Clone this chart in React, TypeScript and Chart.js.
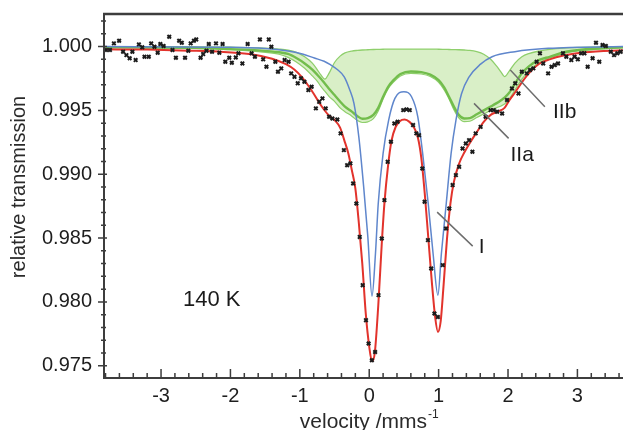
import React, { useEffect, useRef } from 'react';
import { Chart, registerables } from 'chart.js';

Chart.register(...registerables);

// ---------- axes ----------
const xRange = [-3.822, 3.657];
const yRange = [0.97404, 1.00255];
const xMajorTicks = [-3, -2, -1, 0, 1, 2, 3];
const xMinorTicks = [-3.8, -3.6, -3.4, -3.2, -2.8, -2.6, -2.4, -2.2, -1.8, -1.6, -1.4, -1.2, -0.8, -0.6, -0.4, -0.2, 0.2, 0.4, 0.6, 0.8, 1.2, 1.4, 1.6, 1.8, 2.2, 2.4, 2.6, 2.8, 3.2, 3.4, 3.6];
const yMajorTicks = [0.975, 0.98, 0.985, 0.99, 0.995, 1.0];
const yMinorTicks = [0.976, 0.977, 0.978, 0.979, 0.981, 0.982, 0.983, 0.984, 0.986, 0.987, 0.988, 0.989, 0.991, 0.992, 0.993, 0.994, 0.996, 0.997, 0.998, 0.999, 1.001, 1.002];

// ---------- measured points ----------
const dataVelocity = [
  -3.793, -3.736, -3.679, -3.604, -3.547, -3.499, -3.452, -3.413, -3.366, -3.319,
  -3.271, -3.238, -3.177, -3.142, -3.095, -3.048, -3.010, -2.963, -2.882, -2.835,
  -2.786, -2.739, -2.701, -2.654, -2.607, -2.573, -2.526, -2.493, -2.430, -2.393,
  -2.345, -2.312, -2.265, -2.208, -2.160, -2.113, -2.074, -2.017, -1.980, -1.923,
  -1.885, -1.828, -1.752, -1.695, -1.647, -1.575, -1.528, -1.481, -1.447, -1.410,
  -1.353, -1.315, -1.268, -1.219, -1.162, -1.125, -1.077, -1.030, -0.983, -0.934,
  -0.877, -0.830, -0.769, -0.721, -0.674, -0.627, -0.578, -0.531, -0.460, -0.413,
  -0.365, -0.318, -0.271, -0.232, -0.185, -0.137, -0.094, -0.047, -0.009, 0.038,
  0.085, 0.134, 0.181, 0.219, 0.266, 0.313, 0.362, 0.409, 0.490, 0.537,
  0.584, 0.632, 0.679, 0.718, 0.765, 0.798, 0.846, 0.893, 0.940, 0.989,
  1.060, 1.107, 1.154, 1.202, 1.249, 1.296, 1.345, 1.392, 1.439, 1.487,
  1.534, 1.605, 1.677, 1.748, 1.795, 1.843, 1.915, 1.986, 2.057, 2.104,
  2.151, 2.199, 2.271, 2.318, 2.365, 2.413, 2.460, 2.507, 2.578, 2.627,
  2.674, 2.721, 2.792, 2.840, 2.912, 2.959, 3.006, 3.054, 3.101, 3.148,
  3.219, 3.268, 3.315, 3.362, 3.410, 3.481, 3.528, 3.575, 3.624,
];
const dataTransmission = [
  0.99973, 0.99973, 1.00025, 1.00045, 0.99959, 0.99933, 0.99908, 0.99959, 0.99894, 1.00017,
  0.99994, 0.9992, 0.9992, 1.00025, 0.99998, 0.99951, 1.0002, 1.00004, 1.00077, 0.99973,
  0.99912, 1.00045, 1.0003, 0.99912, 0.99967, 1.00025, 1.00045, 1.00056, 0.99912, 0.99941,
  0.99967, 1.0002, 0.99959, 1.00025, 0.99951, 1.0002, 0.99881, 0.99912, 0.99873, 0.99915,
  0.99947, 0.99868, 1.0002, 0.99947, 0.9992, 1.00056, 0.999, 0.99842, 1.00056, 0.99998,
  0.99881, 0.99803, 0.99829, 0.99894, 0.99881, 0.9979, 0.99763, 0.99712, 0.99751, 0.99724,
  0.99659, 0.99685, 0.99516, 0.99567, 0.99594, 0.99516, 0.9945, 0.99437, 0.99429, 0.9932,
  0.99189, 0.99071, 0.99085, 0.98928, 0.98771, 0.98509, 0.98131, 0.97857, 0.97674, 0.97543,
  0.97608, 0.98053, 0.98497, 0.98797, 0.99097, 0.99254, 0.99398, 0.99411, 0.99502, 0.99508,
  0.99502, 0.99385, 0.9932, 0.99306, 0.99045, 0.98784, 0.98484, 0.98262, 0.97909, 0.97882,
  0.98288, 0.98575, 0.98732, 0.98915, 0.98993, 0.99058, 0.99202, 0.99241, 0.99267, 0.99176,
  0.9932, 0.99371, 0.9945, 0.99502, 0.99502, 0.99489, 0.99476, 0.99581, 0.99672, 0.99712,
  0.99633, 0.99803, 0.9979, 0.99816, 0.99829, 0.99881, 0.99947, 0.99868, 0.9979, 0.99842,
  0.99855, 0.99868, 0.99947, 0.9992, 0.99894, 0.9992, 0.999, 0.99947, 0.99947, 0.99842,
  0.99908, 1.0003, 0.99881, 1.00012, 1.00004, 0.99959, 0.99933, 0.99947, 0.99959,
];

// ---------- total fit (red) ----------
const fitVelocity = [
  -3.85, -3.2, -2.6, -2.1, -1.7, -1.4, -1.2, -1.08, -0.97, -0.88,
  -0.80, -0.72, -0.65, -0.58, -0.50, -0.42, -0.36, -0.30, -0.25, -0.20,
  -0.15, -0.10, -0.05, 0.0, 0.04, 0.08, 0.13, 0.18, 0.22, 0.27,
  0.32, 0.38, 0.44, 0.51, 0.58, 0.64, 0.70, 0.75, 0.80, 0.85,
  0.90, 0.95, 0.99, 1.03, 1.07, 1.12, 1.17, 1.22, 1.30, 1.37,
  1.45, 1.55, 1.65, 1.75, 1.85, 1.95, 2.02, 2.10, 2.20, 2.30,
  2.45, 2.60, 2.80, 3.10, 3.70,
];
const fitTotal = [
  0.99978, 0.99976, 0.99968, 0.99958, 0.9994, 0.99905, 0.99862, 0.9982, 0.9976, 0.99695,
  0.9963, 0.9956, 0.99505, 0.9946, 0.99425, 0.99365, 0.99267, 0.9916, 0.9903, 0.9889,
  0.9862, 0.9830, 0.9791, 0.9765, 0.97535, 0.9760, 0.9797, 0.9845, 0.9878, 0.9906,
  0.9926, 0.9937, 0.99415, 0.99428, 0.9941, 0.9937, 0.9929, 0.9913, 0.9885, 0.9851,
  0.9817, 0.9788, 0.97765, 0.9785, 0.9812, 0.9849, 0.9877, 0.9894, 0.9909, 0.9917,
  0.99245, 0.9933, 0.9941, 0.99465, 0.9949, 0.9952, 0.9958, 0.9964, 0.9972, 0.9979,
  0.99865, 0.9990, 0.9993, 0.99955, 0.99972,
];

// ---------- component I (blue) ----------
const compIVelocity = [
  -3.85, -2.0, -1.5, -1.17, -0.95, -0.79, -0.65, -0.56, -0.46, -0.36,
  -0.28, -0.22, -0.15, -0.08, -0.02, 0.04, 0.09, 0.13, 0.20, 0.28,
  0.37, 0.50, 0.61, 0.70, 0.77, 0.85, 0.92, 0.99, 1.04, 1.11,
  1.18, 1.25, 1.33, 1.44, 1.60, 1.77, 2.10, 2.58, 3.70,
];
const compI = [
  1.0, 0.99995, 0.99985, 0.99965, 0.9994, 0.9991, 0.99885, 0.99858, 0.9982, 0.99763,
  0.9966, 0.99555, 0.99293, 0.98901, 0.98509, 0.98045, 0.98379, 0.98771, 0.99163, 0.99424,
  0.99594, 0.99646, 0.99607, 0.9945, 0.99163, 0.98771, 0.98379, 0.98053, 0.98379, 0.98771,
  0.99163, 0.99424, 0.9963, 0.99763, 0.9986, 0.9992, 0.9996, 0.99986, 1.0,
];

// ---------- components IIa / IIb (green) ----------
const greenVelocity = [
  -3.85, -2.5, -2.0, -1.6, -1.3, -1.17, -1.05, -0.93, -0.82, -0.75,
  -0.70, -0.64, -0.58, -0.50, -0.42, -0.35, -0.25, -0.17, -0.10, -0.02,
  0.06, 0.13, 0.20, 0.28, 0.35, 0.45, 0.60, 0.75, 0.88, 1.00,
  1.08, 1.15, 1.22, 1.29, 1.37, 1.45, 1.55, 1.65, 1.75, 1.83,
  1.90, 1.95, 2.02, 2.10, 2.20, 2.30, 2.45, 2.60, 2.80, 3.00,
  3.30, 3.70,
];
const compIIb = [
  1.0, 0.99998, 0.99995, 0.9999, 0.9998, 0.99972, 0.99955, 0.9992, 0.9987, 0.9982,
  0.9978, 0.99745, 0.9979, 0.99875, 0.99925, 0.9995, 0.99965, 0.9997, 0.99973, 0.99975,
  0.99977, 0.99978, 0.99979, 0.9998, 0.9998, 0.9998, 0.9998, 0.9998, 0.9998, 0.99979,
  0.99978, 0.99977, 0.99976, 0.99975, 0.99973, 0.9997, 0.9996, 0.9994, 0.9990, 0.9985,
  0.9980, 0.99765, 0.9981, 0.9987, 0.9992, 0.99945, 0.99965, 0.99978, 0.99988, 0.99993,
  0.99997, 1.0,
];
const compIIa = [
  0.99995, 0.9999, 0.9998, 0.9997, 0.99955, 0.99942, 0.9991, 0.99868, 0.9982, 0.9978,
  0.9975, 0.9971, 0.9967, 0.9962, 0.9957, 0.9953, 0.9949, 0.99455, 0.99435, 0.9944,
  0.99465, 0.9952, 0.99607, 0.9969, 0.99737, 0.99785, 0.99805, 0.998, 0.9978, 0.99737,
  0.9968, 0.99607, 0.9953, 0.99465, 0.99437, 0.9944, 0.9947, 0.995, 0.9953, 0.99555,
  0.9958, 0.9960, 0.9964, 0.9971, 0.9979, 0.99845, 0.99895, 0.9992, 0.99955, 0.99972,
  0.99985, 0.99995,
];
const compIISum = [
  0.99993, 0.99985, 0.99975, 0.9996, 0.9994, 0.99915, 0.9988, 0.9983, 0.9977, 0.9973,
  0.9969, 0.9965, 0.9961, 0.9957, 0.9952, 0.9949, 0.99455, 0.9942, 0.99405, 0.9941,
  0.99435, 0.99495, 0.9959, 0.99675, 0.99722, 0.9977, 0.9979, 0.99785, 0.99765, 0.9972,
  0.9966, 0.9959, 0.99505, 0.99442, 0.99412, 0.99415, 0.99445, 0.99472, 0.995, 0.9952,
  0.99535, 0.9955, 0.9959, 0.9966, 0.99745, 0.9981, 0.99875, 0.9991, 0.99945, 0.99965,
  0.9998, 0.99992,
];

// ---------- annotations (data coordinates) ----------
const componentLabels = ['I', 'IIa', 'IIb'];
const labelVelocity = [1.62, 2.204, 2.816];
const labelTransmission = [0.98429, 0.9915, 0.99487];
const leaderFromVelocity = [0.979, 1.51, 2.033];
const leaderFromTransmission = [0.98703, 0.99555, 0.99816];
const leaderToVelocity = [1.491, 2.009, 2.531];
const leaderToTransmission = [0.98437, 0.99281, 0.99528];
const temperatureLabel = '140 K';
const temperatureVelocity = -2.269;
const temperatureTransmission = 0.98017;
const yTitle = 'relative transmission';
const xTitleMain = 'velocity /mms';
const xTitleSup = '-1';

const FONT = '"Liberation Sans", Arial, Helvetica, sans-serif';

function toPoints(xs: number[], ys: number[]) {
  const n = Math.min(xs.length, ys.length);
  const out: { x: number; y: number }[] = [];
  for (let i = 0; i < n; i++) out.push({ x: xs[i], y: ys[i] });
  return out;
}

const decorPlugin = {
  id: 'decor',
  afterDraw(chart: any) {
    const { ctx, chartArea: a, scales } = chart;
    const xs = scales.x;
    const ys = scales.y;
    ctx.save();
    // frame
    ctx.strokeStyle = '#3d3d3d';
    ctx.lineWidth = 2.4;
    ctx.beginPath();
    ctx.moveTo(a.left - 1, a.top);
    ctx.lineTo(a.right, a.top);
    ctx.stroke();
    ctx.lineWidth = 2;
    ctx.beginPath();
    ctx.moveTo(a.left, a.top);
    ctx.lineTo(a.left, a.bottom);
    ctx.lineTo(a.right, a.bottom);
    ctx.stroke();
    // ticks
    ctx.lineWidth = 1.5;
    ctx.beginPath();
    xMajorTicks.forEach((v) => {
      const p = xs.getPixelForValue(v);
      ctx.moveTo(p, a.bottom);
      ctx.lineTo(p, a.bottom - 9);
    });
    xMinorTicks.forEach((v) => {
      const p = xs.getPixelForValue(v);
      ctx.moveTo(p, a.bottom);
      ctx.lineTo(p, a.bottom - 5);
    });
    yMajorTicks.forEach((v) => {
      const p = ys.getPixelForValue(v);
      ctx.moveTo(a.left - 6, p);
      ctx.lineTo(a.left + 3, p);
    });
    yMinorTicks.forEach((v) => {
      const p = ys.getPixelForValue(v);
      ctx.moveTo(a.left - 3, p);
      ctx.lineTo(a.left + 2, p);
    });
    ctx.stroke();

    // leader lines
    ctx.strokeStyle = '#6e6e6e';
    ctx.lineWidth = 1.5;
    ctx.beginPath();
    for (let i = 0; i < componentLabels.length; i++) {
      ctx.moveTo(xs.getPixelForValue(leaderFromVelocity[i]), ys.getPixelForValue(leaderFromTransmission[i]));
      ctx.lineTo(xs.getPixelForValue(leaderToVelocity[i]), ys.getPixelForValue(leaderToTransmission[i]));
    }
    ctx.stroke();

    // labels
    ctx.fillStyle = '#1a1a1a';
    ctx.textAlign = 'center';
    ctx.textBaseline = 'middle';
    ctx.font = `21px ${FONT}`;
    for (let i = 0; i < componentLabels.length; i++) {
      ctx.fillText(componentLabels[i], xs.getPixelForValue(labelVelocity[i]), ys.getPixelForValue(labelTransmission[i]));
    }
    ctx.font = `22px ${FONT}`;
    ctx.fillText(temperatureLabel, xs.getPixelForValue(temperatureVelocity), ys.getPixelForValue(temperatureTransmission));

    // y title
    ctx.save();
    ctx.font = `20px ${FONT}`;
    ctx.fillStyle = '#2a2a2a';
    ctx.translate(19, (a.top + a.bottom) / 2 - 9);
    ctx.rotate(-Math.PI / 2);
    ctx.fillText(yTitle, 0, 0);
    ctx.restore();

    // x title with superscript
    ctx.fillStyle = '#2a2a2a';
    ctx.textAlign = 'left';
    ctx.textBaseline = 'alphabetic';
    ctx.font = `21px ${FONT}`;
    const w1 = ctx.measureText(xTitleMain).width;
    ctx.font = `12px ${FONT}`;
    const w2 = ctx.measureText(xTitleSup).width;
    const cx = xs.getPixelForValue(0);
    const x0 = cx - (w1 + w2 + 1) / 2;
    const base = a.bottom + 50;
    ctx.font = `21px ${FONT}`;
    ctx.fillText(xTitleMain, x0, base);
    ctx.font = `12px ${FONT}`;
    ctx.fillText(xTitleSup, x0 + w1 + 1, base - 10);
    ctx.restore();
  },
};

export default function App() {
  const ref = useRef<HTMLCanvasElement | null>(null);
  useEffect(() => {
    if (!ref.current) return;
    const chart = new Chart(ref.current, {
      type: 'line',
      data: {
        datasets: [
          {
            label: 'data',
            data: toPoints(dataVelocity, dataTransmission),
            showLine: false,
            pointStyle: 'crossRot',
            pointRadius: 2.5,
            pointBorderWidth: 2,
            pointBorderColor: '#1c1c1c',
            pointBackgroundColor: '#1c1c1c',
            order: 0,
          },
          {
            label: 'fit',
            data: toPoints(fitVelocity, fitTotal),
            borderColor: '#e2332c',
            borderWidth: 2,
            pointRadius: 0,
            cubicInterpolationMode: 'monotone',
            fill: false,
            order: 1,
          },
          {
            label: 'I',
            data: toPoints(compIVelocity, compI),
            borderColor: '#5f86cc',
            borderWidth: 1.5,
            pointRadius: 0,
            cubicInterpolationMode: 'monotone',
            fill: false,
            order: 2,
          },
          {
            label: 'IIb',
            data: toPoints(greenVelocity, compIIb),
            borderColor: '#8fcf6c',
            borderWidth: 1.3,
            pointRadius: 0,
            cubicInterpolationMode: 'monotone',
            fill: false,
            order: 5,
          },
          {
            label: 'IIa',
            data: toPoints(greenVelocity, compIIa),
            borderColor: '#72bd4c',
            borderWidth: 2.4,
            pointRadius: 0,
            cubicInterpolationMode: 'monotone',
            fill: false,
            order: 3,
          },
          {
            label: 'IIsum',
            data: toPoints(greenVelocity, compIISum),
            borderColor: '#8fcf6c',
            borderWidth: 1.2,
            pointRadius: 0,
            cubicInterpolationMode: 'monotone',
            fill: { target: 3 },
            backgroundColor: 'rgba(150, 210, 100, 0.36)',
            order: 4,
          },
        ],
      },
      options: {
        responsive: false,
        animation: false,
        events: [],
        layout: { padding: { top: 14, right: 0, left: 0, bottom: 0 } },
        plugins: {
          legend: { display: false },
          tooltip: { enabled: false },
          filler: { drawTime: 'beforeDatasetsDraw' },
        } as any,
        scales: {
          x: {
            type: 'linear',
            min: xRange[0],
            max: xRange[1],
            afterBuildTicks: (s: any) => {
              s.ticks = xMajorTicks.map((v) => ({ value: v }));
            },
            afterFit: (s: any) => {
              s.height = 52;
              s.paddingLeft = 0;
              s.paddingRight = 0;
            },
            grid: { display: false, drawTicks: false },
            border: { display: false },
            ticks: {
              font: { family: FONT, size: 20 },
              color: '#1e1e1e',
              padding: 6,
              autoSkip: false,
              maxRotation: 0,
              includeBounds: false,
              callback: (v: any) => String(v),
            },
          },
          y: {
            type: 'linear',
            min: yRange[0],
            max: yRange[1],
            afterBuildTicks: (s: any) => {
              s.ticks = yMajorTicks.map((v) => ({ value: v }));
            },
            afterFit: (s: any) => {
              s.width = 104;
              s.paddingTop = 0;
              s.paddingBottom = 0;
            },
            grid: { display: false, drawTicks: false },
            border: { display: false },
            ticks: {
              font: { family: FONT, size: 20 },
              color: '#1e1e1e',
              padding: 12,
              autoSkip: false,
              includeBounds: false,
              callback: (v: any) => Number(v).toFixed(3),
            },
          },
        },
      } as any,
      plugins: [decorPlugin],
    });
    return () => chart.destroy();
  }, []);

  return (
    <div style={{ position: 'absolute', left: 0, top: 0, width: 629, height: 430, background: '#fff' }}>
      <canvas ref={ref} width={629} height={430} style={{ display: 'block', width: 629, height: 430 }} />
    </div>
  );
}
